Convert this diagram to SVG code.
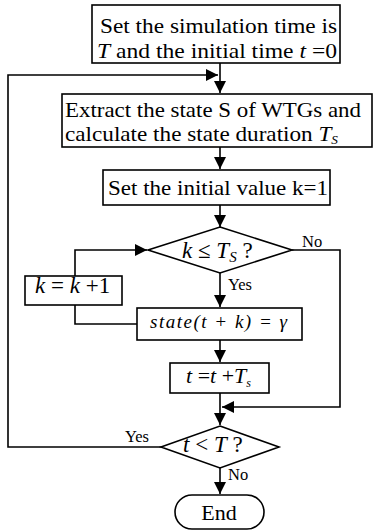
<svg xmlns="http://www.w3.org/2000/svg" width="373" height="531" viewBox="0 0 373 531">
<style>
.b{fill:#fff;stroke:#000;stroke-width:1.6}
.c{fill:none;stroke:#000;stroke-width:1.6}
text{font-family:"Liberation Serif","Times New Roman",serif;fill:#000}
.t{font-size:22px}
.s{font-size:16.5px}
.i{font-style:italic}
</style>
<defs>
<marker id="a" viewBox="0 0 12 12" refX="12" refY="6" markerWidth="12" markerHeight="12" markerUnits="userSpaceOnUse" orient="auto">
<path d="M0,0 L12,6 L0,12 z" fill="#000"/>
</marker>
</defs>
<g id="connectors">
<line class="c" x1="220" y1="63" x2="220" y2="93" marker-end="url(#a)"/>
<polyline class="c" points="161,447 8,447 8,75 218,75" marker-end="url(#a)"/>
<line class="c" x1="220" y1="147" x2="220" y2="169" marker-end="url(#a)"/>
<line class="c" x1="220" y1="205" x2="220" y2="227" marker-end="url(#a)"/>
<line class="c" x1="220" y1="273" x2="220" y2="307" marker-end="url(#a)"/>
<polyline class="c" points="137,324 75,324 75,305"/>
<polyline class="c" points="75,276 75,250 147,250" marker-end="url(#a)"/>
<line class="c" x1="220" y1="340" x2="220" y2="362" marker-end="url(#a)"/>
<line class="c" x1="220" y1="393" x2="220" y2="425" marker-end="url(#a)"/>
<polyline class="c" points="292,250 340,250 340,407 222,407" marker-end="url(#a)"/>
<line class="c" x1="220" y1="468" x2="220" y2="494" marker-end="url(#a)"/>
<text class="s" x="302" y="247">No</text>
<text class="s" x="228" y="290">Yes</text>
<text class="s" x="125" y="442">Yes</text>
<text class="s" x="228" y="480">No</text>
</g>
<g id="start">
<rect class="b" x="92" y="5" width="248" height="58"/>
<text class="t" x="100" y="33" textLength="237" lengthAdjust="spacingAndGlyphs">Set the simulation time is</text>
<text class="t" x="97" y="58" textLength="240" lengthAdjust="spacingAndGlyphs"><tspan class="i">T</tspan> and the initial time <tspan class="i">t</tspan> =0</text>
</g>
<g id="extract">
<rect class="b" x="62" y="94" width="310" height="53"/>
<text x="65" y="117" font-size="21" textLength="296" lengthAdjust="spacingAndGlyphs">Extract the state S of WTGs and</text>
<text x="65" y="141" font-size="21" textLength="273" lengthAdjust="spacingAndGlyphs">calculate the state duration <tspan class="i">T</tspan><tspan class="i" font-size="12" dy="3">S</tspan></text>
</g>
<g id="init">
<rect class="b" x="103" y="170" width="227" height="35"/>
<text class="t" x="108" y="195" textLength="220" lengthAdjust="spacingAndGlyphs">Set the initial value k=1</text>
</g>
<g id="cond1">
<polygon class="b" points="220,227 292,250 220,273 148,250"/>
<text x="182" y="258" font-size="23"><tspan class="i">k</tspan> ≤ <tspan class="i">T</tspan><tspan class="i" font-size="15" dy="4">S</tspan><tspan dy="-4"> ?</tspan></text>
</g>
<g id="inc">
<rect class="b" x="25" y="276" width="97" height="29"/>
<text x="35" y="293" font-size="23"><tspan class="i">k</tspan> = <tspan class="i">k</tspan> +1</text>
</g>
<g id="state">
<rect class="b" x="137" y="308" width="165" height="32"/>
<text x="150" y="328" font-size="19" font-style="italic" textLength="137" lengthAdjust="spacing">state(t + k) = γ</text>
</g>
<g id="update">
<rect class="b" x="170" y="363" width="99" height="30"/>
<text x="186" y="383" font-size="22"><tspan class="i">t</tspan> =<tspan class="i">t</tspan> +<tspan class="i">T</tspan><tspan class="i" font-size="12" dy="4">s</tspan></text>
</g>
<g id="cond2">
<polygon class="b" points="220,426 279,447 220,468 161,447"/>
<text x="183" y="452" font-size="23"><tspan class="i">t</tspan> &lt; <tspan class="i">T</tspan> ?</text>
</g>
<g id="end">
<rect class="b" x="175" y="495" width="89" height="34" rx="17" ry="17"/>
<text x="219" y="520" text-anchor="middle" font-size="22">End</text>
</g>
</svg>
